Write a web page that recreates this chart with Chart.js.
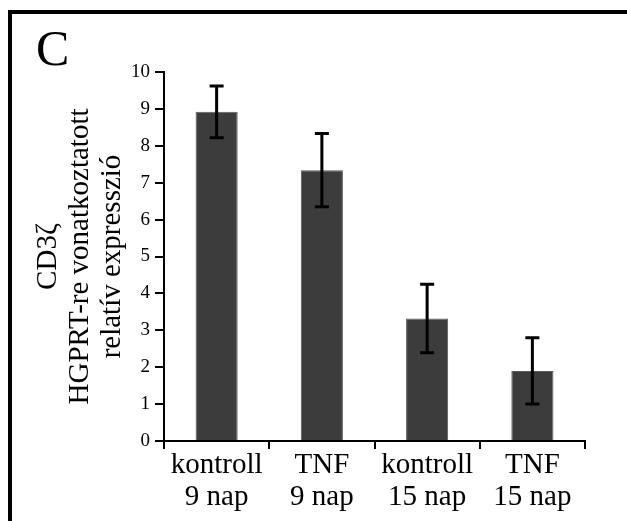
<!DOCTYPE html>
<html>
<head>
<meta charset="utf-8">
<script src="https://cdn.jsdelivr.net/npm/chart.js@4/dist/chart.umd.min.js"></script>
<style>
    html, body { margin: 0; padding: 0; background: #fff; }
    #wrap { width: 627px; height: 521px; }
</style>
</head>
<body>
<div id="wrap"><canvas id="chart" width="627" height="521"></canvas></div>
<script>
const categories = [['kontroll', '9 nap'], ['TNF', '9 nap'], ['kontroll', '15 nap'], ['TNF', '15 nap']];
const values = [8.92, 7.34, 3.32, 1.90];
const errors = [0.70, 0.99, 0.93, 0.90];
const yTitle = ['CD3ζ', 'HGPRT-re vonatkoztatott', 'relatív expresszió'];
const panelLabel = 'C';

const serif = "'Liberation Serif', 'Times New Roman', serif";

// frame (top + left) and panel letter
const framePlugin = {
    id: 'frame',
    beforeDraw(chart) {
        const ctx = chart.ctx;
        ctx.save();
        ctx.fillStyle = '#fff';
        ctx.fillRect(0, 0, chart.width, chart.height);
        ctx.fillStyle = '#000';
        ctx.fillRect(8, 10, chart.width - 8, 4);
        ctx.fillRect(8, 10, 4, chart.height - 10);
        ctx.font = '50px ' + serif;
        ctx.textBaseline = 'alphabetic';
        ctx.fillText(panelLabel, 36, 65);
        ctx.restore();
    }
};

// error bars
const errorBars = {
    id: 'errorBars',
    afterDatasetsDraw(chart) {
        const ctx = chart.ctx;
        const y = chart.scales.y;
        const meta = chart.getDatasetMeta(0);
        ctx.save();
        ctx.strokeStyle = '#000';
        ctx.lineWidth = 3;
        meta.data.forEach((bar, i) => {
            const x = bar.x;
            const top = y.getPixelForValue(values[i] + errors[i]);
            const bot = y.getPixelForValue(values[i] - errors[i]);
            ctx.beginPath();
            ctx.moveTo(x, top);
            ctx.lineTo(x, bot);
            ctx.moveTo(x - 7, top);
            ctx.lineTo(x + 7, top);
            ctx.moveTo(x - 7, bot);
            ctx.lineTo(x + 7, bot);
            ctx.stroke();
        });
        ctx.restore();
    }
};

new Chart(document.getElementById('chart'), {
    type: 'bar',
    data: {
        labels: categories,
        datasets: [{
            data: values,
            backgroundColor: '#3c3c3c',
            borderColor: '#5a5a5a',
            borderWidth: 1,
            barPercentage: 0.8,
            categoryPercentage: 0.5
        }]
    },
    options: {
        responsive: false,
        animation: false,
        layout: { padding: { left: 14, top: 72, right: 42, bottom: 0 } },
        plugins: {
            legend: { display: false },
            tooltip: { enabled: false }
        },
        scales: {
            x: {
                grid: {
                    display: true,
                    drawOnChartArea: false,
                    drawTicks: true,
                    tickLength: 8,
                    color: '#000',
                    lineWidth: 2
                },
                border: { display: true, color: '#000', width: 2 },
                ticks: {
                    color: '#000',
                    padding: 0,
                    maxRotation: 0,
                    font: { family: serif, size: 29, lineHeight: '32px' }
                },
                afterFit(scale) { scale.height = 80; }
            },
            y: {
                min: 0,
                max: 10,
                grid: {
                    display: true,
                    drawOnChartArea: false,
                    drawTicks: true,
                    tickLength: 9,
                    color: '#000',
                    lineWidth: 2
                },
                border: { display: true, color: '#000', width: 2 },
                ticks: {
                    stepSize: 1,
                    color: '#000',
                    padding: 5,
                    font: { family: serif, size: 19 }
                },
                title: {
                    display: true,
                    text: yTitle,
                    color: '#000',
                    padding: { top: 18, bottom: 0 },
                    font: { family: serif, size: 29, lineHeight: '32px' }
                },
                afterFit(scale) { scale.width = 150; }
            }
        }
    },
    plugins: [framePlugin, errorBars]
});
</script>
</body>
</html>
